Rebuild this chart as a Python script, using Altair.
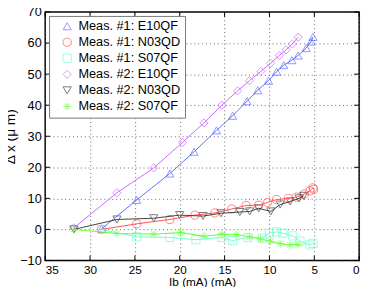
import altair as alt
import pandas as pd

series_names = ["Meas. #1: E10QF", "Meas. #1: N03QD", "Meas. #1: S07QF",
                "Meas. #2: E10QF", "Meas. #2: N03QD", "Meas. #2: S07QF"]
colors = ["#5f6dff", "#ff5050", "#70ffd0", "#cc66ff", "#404040", "#66ff33"]
shapes = ["triangle-up", "circle", "square", "diamond", "triangle-down",
          "M-1,0H1M0,-1V1M-0.72,-0.72L0.72,0.72M-0.72,0.72L0.72,-0.72"]

e10_1_x = [28.7, 24.8, 21.1, 18.4, 15.9, 14.1, 12.5, 11.3, 10.1, 9.2, 8.4, 7.5, 6.8, 5.9, 5.35, 5.15]
e10_1_y = [0.2, 9.5, 18.0, 25.0, 31.9, 36.6, 41.3, 44.8, 47.9, 50.8, 52.9, 54.5, 56.0, 58.4, 60.5, 62.0]
n03_1_x = [28.7, 24.8, 21.1, 18.3, 16.1, 14.2, 12.6, 11.2, 10.2, 9.2, 7.9, 7.0, 6.1, 5.5, 5.15, 5.08]
n03_1_y = [0.0, 1.8, 3.2, 4.6, 5.3, 6.6, 7.7, 7.8, 8.7, 9.6, 10.0, 10.4, 11.4, 12.4, 13.4, 12.9]
s07_1_x = [28.7, 24.8, 21.1, 18.2, 15.3, 14.1, 12.4, 10.8, 10.0, 9.2, 8.5, 7.4, 6.6, 5.5, 5.15]
s07_1_y = [0.0, -2.4, -2.6, -3.3, -2.6, -3.6, -2.6, -2.8, -1.2, -0.8, -1.2, -2.1, -3.8, -5.0, -4.5]
e10_2_x = [31.8, 27.0, 22.9, 19.7, 17.3, 15.3, 13.55, 12.23, 10.96, 9.87, 8.9, 8.15, 7.45, 6.8]
e10_2_y = [0.5, 11.8, 19.8, 28.0, 34.3, 40.0, 44.6, 47.9, 50.9, 53.5, 56.0, 57.8, 59.7, 61.9]
n03_2_x = [31.8, 27.0, 22.9, 20.0, 17.4, 15.4, 13.3, 12.2, 11.2, 9.85, 8.8, 7.7, 6.7, 6.2]
n03_2_y = [0.0, 3.2, 3.6, 4.6, 4.3, 5.2, 5.6, 5.8, 6.8, 5.8, 8.0, 9.0, 10.0, 10.8]
s07_2_x = [31.8, 27.0, 22.9, 19.9, 17.3, 15.3, 13.7, 12.2, 11.0, 9.87, 8.8, 7.7, 6.8]
s07_2_y = [0.0, -1.3, -1.5, -1.0, -2.2, -1.6, -1.6, -2.4, -3.1, -3.8, -4.6, -5.0, -4.8]

x_ticks = [0, 5, 10, 15, 20, 25, 30, 35]
y_ticks = [-10, 0, 10, 20, 30, 40, 50, 60, 70]

all_x = [e10_1_x, n03_1_x, s07_1_x, e10_2_x, n03_2_x, s07_2_x]
all_y = [e10_1_y, n03_1_y, s07_1_y, e10_2_y, n03_2_y, s07_2_y]
rows = []
for name, xs, ys in zip(series_names, all_x, all_y):
    for i, (xv, yv) in enumerate(zip(xs, ys)):
        rows.append({"series": name, "line_series": name, "ib": xv, "dx": yv, "idx": i})
df = pd.DataFrame(rows)

W, H = 321, 254
FONT = "Liberation Sans"

xscale = alt.Scale(domain=[0, 35], reverse=True, nice=False)
yscale = alt.Scale(domain=[-10, 70], nice=False)
cscale = alt.Scale(domain=series_names, range=colors)
sscale = alt.Scale(domain=series_names, range=shapes)

xaxis = alt.Axis(values=x_ticks, title="Ib (mA) (mA)", grid=True, gridDash=[1, 3],
                 gridColor="#555", gridOpacity=0.9, tickSize=0, labelPadding=4,
                 domain=False, labelFontSize=12, titleFontSize=12, titleFontWeight="normal",
                 titlePadding=2, labelColor="black", titleColor="black", labelFont=FONT,
                 titleFont=FONT, labelOverlap=False)
yaxis = alt.Axis(values=y_ticks, title="Δ x (μ m)", grid=True, gridDash=[1, 3],
                 gridColor="#555", gridOpacity=0.9, tickSize=0, labelPadding=4,
                 domain=False, labelFontSize=13, titleFontSize=14, titleFontWeight="normal",
                 titlePadding=2, labelColor="black", titleColor="black", labelFont=FONT,
                 titleFont=FONT, labelOverlap=False)

base = alt.Chart(df)
lines = base.mark_line(strokeWidth=1, clip=True).encode(
    x=alt.X("ib:Q", scale=xscale, axis=xaxis),
    y=alt.Y("dx:Q", scale=yscale, axis=yaxis),
    stroke=alt.Stroke("line_series:N", scale=cscale, legend=None),
    order="idx:Q",
)
points = base.mark_point(filled=False, size=70, strokeWidth=1).encode(
    x=alt.X("ib:Q", scale=xscale, axis=xaxis),
    y=alt.Y("dx:Q", scale=yscale, axis=yaxis),
    color=alt.Color("series:N", scale=cscale,
                    legend=alt.Legend(orient="top-left", offset=4, title=None,
                                      fillColor="white", strokeColor="#777", padding=4,
                                      labelFontSize=13, labelFont=FONT, labelColor="black",
                                      symbolSize=70, symbolStrokeWidth=1, rowPadding=2.4,
                                      symbolOffset=8, labelOffset=5)),
    shape=alt.Shape("series:N", scale=sscale),
)

xt = pd.DataFrame({"ib": x_ticks})
yt = pd.DataFrame({"dx": y_ticks})
tick_x_bottom = alt.Chart(xt).mark_rule(color="black", strokeWidth=1).encode(
    x=alt.X("ib:Q", scale=xscale, axis=xaxis), y=alt.value(H), y2=alt.value(H - 5))
tick_x_top = alt.Chart(xt).mark_rule(color="black", strokeWidth=1).encode(
    x=alt.X("ib:Q", scale=xscale, axis=xaxis), y=alt.value(0), y2=alt.value(5))
tick_y_left = alt.Chart(yt).mark_rule(color="black", strokeWidth=1).encode(
    y=alt.Y("dx:Q", scale=yscale, axis=yaxis), x=alt.value(0), x2=alt.value(5))
tick_y_right = alt.Chart(yt).mark_rule(color="black", strokeWidth=1).encode(
    y=alt.Y("dx:Q", scale=yscale, axis=yaxis), x=alt.value(W), x2=alt.value(W - 5))

chart = alt.layer(points, lines, tick_x_bottom, tick_x_top, tick_y_left, tick_y_right).properties(
    width=W, height=H,
    autosize=alt.AutoSizeParams(type="none"),
    padding={"left": 38, "top": 1, "right": 7, "bottom": 24},
).configure_view(stroke="black", strokeWidth=1.5)

chart.save("out.html", embed_options={"renderer": "svg", "actions": False})
